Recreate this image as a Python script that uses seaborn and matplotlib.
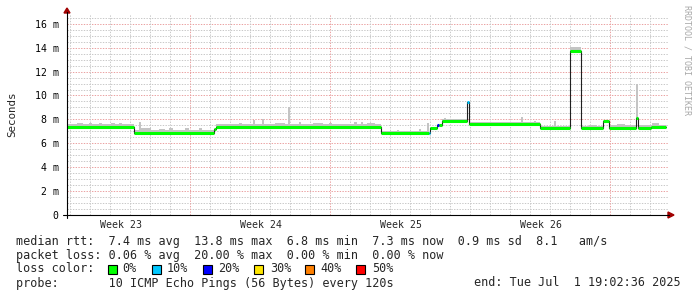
import numpy as np
import pandas as pd
import matplotlib
matplotlib.use("Agg")
import matplotlib.pyplot as plt
import seaborn as sns
from matplotlib.patches import Rectangle, Polygon
from matplotlib.lines import Line2D

# ---------------- data (days since left edge, milliseconds) ----------------
med_start = [0.0, 3.35, 7.35, 7.45, 15.7, 18.1, 18.15, 18.5, 18.6, 18.75,
             20.0, 20.1, 23.65, 25.15, 25.7, 26.8, 27.1, 28.45, 28.55, 29.2]
med_value = [7.38, 6.84, 7.2, 7.38, 6.86, 6.86, 7.3, 7.55, 7.55, 7.85,
             9.45, 7.58, 7.3, 13.75, 7.3, 7.85, 7.32, 8.1, 7.32, 7.4]
med_loss = [0, 0, 0, 0, 0, 10, 0, 20, 0, 0,
            10, 0, 0, 0, 0, 0, 0, 0, 0, 0]
data_end = 29.95

smoke_start = [0.0, 3.35, 7.45, 15.7, 18.75, 20.1, 23.65, 25.15, 25.7, 27.1, 28.55,
               1.1, 1.6, 2.2, 2.6, 3.6, 3.7, 5.1, 5.9, 6.6, 8.6, 9.3, 9.75, 11.05,
               11.6, 13.1, 14.35, 14.7, 16.5, 17.6, 18.0, 18.85, 22.7, 23.35, 24.35,
               28.45, 27.5, 29.25, 0.5, 4.6, 10.4, 12.3, 15.0, 21.2, 26.1]
smoke_end = [3.35, 7.35, 15.7, 18.1, 20.0, 23.65, 25.15, 25.7, 26.8, 28.45, 29.95,
             1.25, 1.75, 2.4, 2.75, 3.7, 4.2, 5.3, 6.1, 6.75, 8.75, 9.4, 9.85, 11.15,
             11.7, 13.25, 14.5, 14.8, 16.6, 17.7, 18.1, 18.95, 22.8, 23.45, 24.45,
             28.55, 27.9, 29.6, 0.8, 4.9, 10.9, 12.8, 15.4, 21.9, 26.5]
smoke_top = [7.6, 7.1, 7.6, 7.06, 8.0, 7.76, 7.48, 14.05, 7.48, 7.5, 7.5,
             7.72, 7.7, 7.68, 7.7, 7.8, 7.28, 7.28, 7.3, 7.26, 7.7, 7.97, 8.0, 9.0,
             7.8, 7.72, 7.75, 7.75, 7.15, 7.2, 7.7, 8.1, 8.2, 7.9, 7.9,
             11.0, 7.6, 7.68, 7.68, 7.2, 7.68, 7.68, 7.68, 7.8, 7.55]

week_pos = [2.7, 9.7, 16.7, 23.7]
week_labels = ["Week 23", "Week 24", "Week 25", "Week 26"]
ytick_vals = [0, 2, 4, 6, 8, 10, 12, 14, 16]
ytick_labels = ["0", "2 m", "4 m", "6 m", "8 m", "10 m", "12 m", "14 m", "16 m"]

loss_levels = [0, 10, 20, 30, 40, 50]
loss_colors = ["#00ff00", "#00c8ff", "#0000ff", "#ffe600", "#ff8000", "#ff0000"]

# ---------------- figure ----------------
sns.set_style("white")
plt.rcParams["font.family"] = ["DejaVu Sans Mono", "DejaVu Sans"]

W, H = 697, 297
fig = plt.figure(figsize=(W / 100, H / 100), dpi=100)
L, R, T, B = 67, 668, 14.2, 215
ax = fig.add_axes([L / W, 1 - B / H, (R - L) / W, (B - T) / H])
XMAX, YMAX = 30.05, 16.8
ax.set_xlim(0, XMAX)
ax.set_ylim(0, YMAX)
for s in ax.spines.values():
    s.set_visible(False)


def fp(x, y):
    return (x / W, 1 - y / H)


# grid (fine dotted lines)
grey, red = "#c8c8c8", "#eaa0a0"
for k in range(1, 34):
    yv = k * 0.5
    if yv > YMAX:
        break
    c = red if k % 4 == 0 else grey
    ax.axhline(yv, color=c, lw=0.7, ls=(0, (1.4, 1.4)), zorder=0)
for k in range(0, 31):
    xv = 0.15 + k
    if xv > XMAX:
        break
    c = red if abs((xv - 6.15) % 7) < 1e-6 else grey
    ax.axvline(xv, color=c, lw=0.7, ls=(0, (1.4, 1.4)), zorder=0)

# smoke
med_start_a = np.array(med_start)
med_value_a = np.array(med_value)
ss = np.array(smoke_start)
idx = np.searchsorted(med_start_a, ss + 1e-9) - 1
bottoms = med_value_a[idx]
ax.bar(ss, np.array(smoke_top) - bottoms, width=np.array(smoke_end) - ss,
       bottom=bottoms, align="edge", color="#c4c4c4", linewidth=0, zorder=2)

# median dark step line
dfm = pd.DataFrame({"day": med_start + [data_end],
                    "ms": med_value + [med_value[-1]]})
sns.lineplot(data=dfm, x="day", y="ms", drawstyle="steps-post", estimator=None,
             sort=False, color="#202020", linewidth=0.8, ax=ax, zorder=3)

# coloured median segments
cmap = dict(zip(loss_levels, loss_colors))
med_end = med_start[1:] + [data_end]
ax.hlines(med_value, med_start, med_end,
          colors=[cmap[l] for l in med_loss], linewidth=2.2, zorder=4)
ax.set_xlabel("")
ax.set_ylabel("")

# ticks
ax.set_yticks(ytick_vals)
ax.set_yticklabels(ytick_labels)
ax.set_yticks(np.arange(0.5, 16.6, 0.5), minor=True)
ax.set_xticks(week_pos)
ax.set_xticklabels(week_labels)
ax.set_xticks([0.15 + k for k in range(30)], minor=True)
ax.tick_params(axis="y", which="major", length=3, width=0.8, direction="out",
               pad=3, labelsize=7.1, colors="black")
ax.tick_params(axis="y", which="minor", length=2, width=0.6, direction="inout",
               color="#909090")
ax.tick_params(axis="x", which="major", length=0, pad=3.3, labelsize=7.1)
ax.tick_params(axis="x", which="minor", length=2, width=0.6, direction="inout",
               color="#909090")

# axis lines + arrows
fig.add_artist(Line2D([fp(67, 218)[0], fp(67, 12)[0]], [fp(67, 218)[1], fp(67, 12)[1]],
                      color="black", lw=0.8, transform=fig.transFigure))
fig.add_artist(Line2D([fp(63, 215)[0], fp(669, 215)[0]], [fp(63, 215)[1], fp(669, 215)[1]],
                      color="black", lw=0.8, transform=fig.transFigure))
fig.add_artist(Polygon([fp(64, 13), fp(70, 13), fp(67, 8)], closed=True,
                       color="#a00000", transform=fig.transFigure))
fig.add_artist(Polygon([fp(668, 212), fp(668, 218), fp(674, 215)], closed=True,
                       color="#a00000", transform=fig.transFigure))

# labels
fig.text(*fp(12, 114), "Seconds", rotation=90, ha="center", va="center",
         fontsize=7.8, family=["DejaVu Sans Mono"])
fig.text(*fp(687.5, 60), "RRDTOOL / TOBI OETIKER", rotation=270, ha="center",
         va="center", fontsize=6, color="#a8a8a8")

# legend text
fs = 8.5
fig.text(*fp(16, 241), "median rtt:  7.4 ms avg  13.8 ms max  6.8 ms min  7.3 ms now  0.9 ms sd  8.1   am/s",
         va="center", ha="left", fontsize=fs)
fig.text(*fp(16, 255), "packet loss: 0.06 % avg  20.00 % max  0.00 % min  0.00 % now",
         va="center", ha="left", fontsize=fs)
fig.text(*fp(16, 269), "loss color:", va="center", ha="left", fontsize=fs)
sq_x = [108, 152, 203, 254, 305, 356]
txt_x = [122.7, 166.7, 218.3, 269.7, 320.7, 372]
for lv, col, sx, tx in zip(loss_levels, loss_colors, sq_x, txt_x):
    x0, y0 = fp(sx, 274)
    fig.add_artist(Rectangle((x0, y0), 9 / W, 9 / H, facecolor=col,
                             edgecolor="black", lw=0.8, transform=fig.transFigure))
    fig.text(*fp(tx, 269), f"{lv}%", va="center", ha="left", fontsize=fs)
fig.text(*fp(16, 283), "probe:       10 ICMP Echo Pings (56 Bytes) every 120s",
         va="center", ha="left", fontsize=fs)
fig.text(*fp(681, 283), "end: Tue Jul  1 19:02:36 2025", va="center", ha="right",
         fontsize=fs)

fig.savefig("out.png", dpi=100)
